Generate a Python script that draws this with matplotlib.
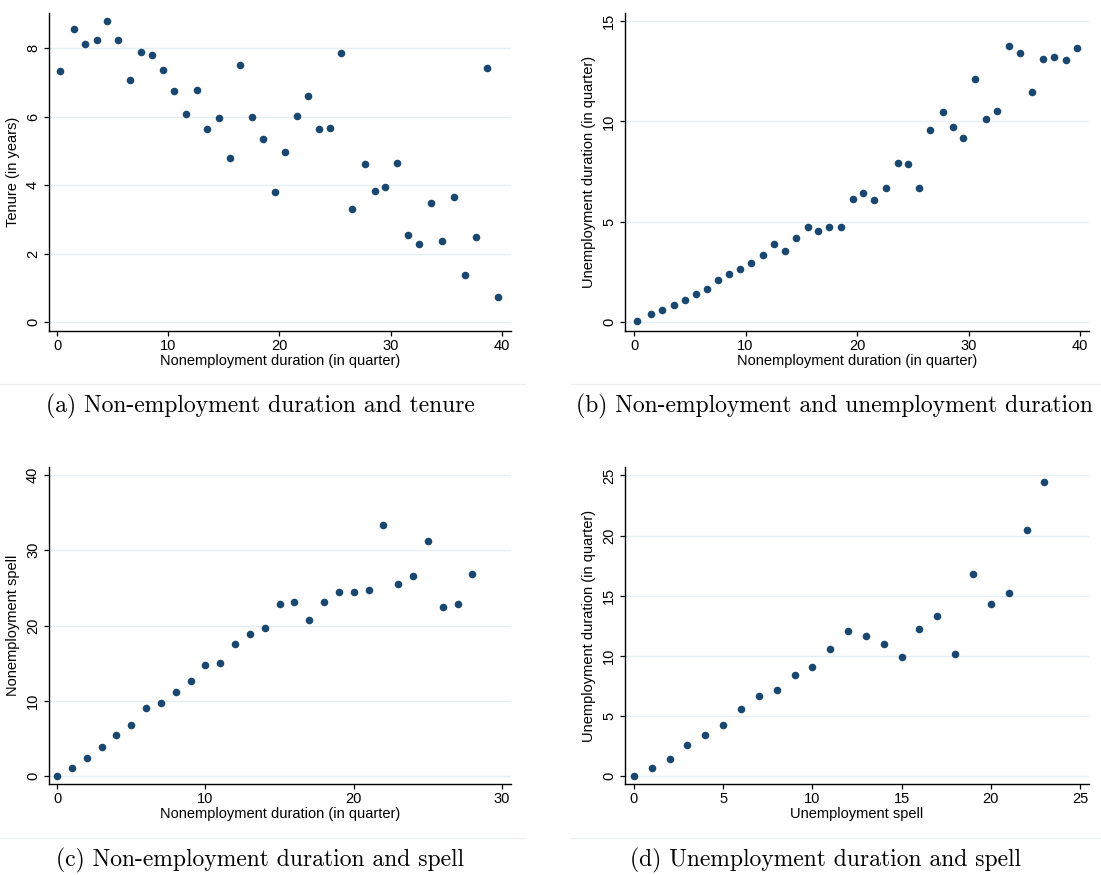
import matplotlib
matplotlib.use("Agg")
import matplotlib.pyplot as plt
from matplotlib.lines import Line2D

# (a) nonemployment duration vs tenure
a_x = [0.27, 1.53, 2.49, 3.6, 4.53, 5.52, 6.54, 7.56, 8.55, 9.54,
       10.49, 11.6, 12.56, 13.52, 14.54, 15.59, 16.49, 17.54, 18.56, 19.58,
       20.51, 21.56, 22.58, 23.6, 24.59, 25.55, 26.57, 27.71, 28.61, 29.48,
       30.58, 31.57, 32.59, 33.61, 34.66, 35.68, 36.67, 37.66, 38.68, 39.7]
a_y = [7.33, 8.56, 8.13, 8.24, 8.80, 8.23, 7.06, 7.90, 7.79, 7.37,
       6.74, 6.09, 6.79, 5.63, 5.96, 4.78, 7.51, 5.99, 5.34, 3.80,
       4.96, 6.02, 6.61, 5.63, 5.68, 7.87, 3.29, 4.62, 3.84, 3.94,
       4.65, 2.53, 2.27, 3.49, 2.37, 3.65, 1.39, 2.49, 7.43, 0.74]

# (b) nonemployment vs unemployment duration
b_x = [0.28, 1.52, 2.48, 3.6, 4.56, 5.58, 6.54, 7.57, 8.53, 9.52,
       10.48, 11.6, 12.56, 13.55, 14.54, 15.6, 16.5, 17.52, 18.57, 19.6,
       20.5, 21.55, 22.57, 23.63, 24.56, 25.55, 26.54, 27.69, 28.59, 29.46,
       30.6, 31.57, 32.56, 33.61, 34.64, 35.66, 36.68, 37.67, 38.7, 39.69]
b_y = [0.07, 0.38, 0.60, 0.83, 1.08, 1.40, 1.64, 2.09, 2.41, 2.64,
       2.92, 3.36, 3.90, 3.55, 4.19, 4.72, 4.52, 4.75, 4.75, 6.11,
       6.41, 6.08, 6.66, 7.94, 7.87, 6.68, 9.58, 10.47, 9.73, 9.15,
       12.09, 10.13, 10.53, 13.75, 13.42, 11.46, 13.11, 13.22, 13.07, 13.64]

# (c) nonemployment duration vs spell
c_x = list(range(29))
c_y = [0, 1.06, 2.39, 3.85, 5.40, 6.73, 9.04, 9.75, 11.12, 12.67,
       14.71, 14.97, 17.59, 18.87, 19.62, 22.90, 23.17, 20.78, 23.08, 24.45,
       24.50, 24.76, 33.31, 25.47, 26.58, 31.27, 22.41, 22.81, 26.80]

# (d) unemployment duration vs spell
d_x = list(range(24))
d_y = [0, 0.64, 1.38, 2.55, 3.43, 4.26, 5.56, 6.64, 7.14, 8.44,
       9.08, 10.60, 12.07, 11.68, 11.02, 9.88, 12.21, 13.29, 10.13, 16.81,
       14.34, 15.23, 20.46, 24.45]

navy = "#1a476f"
grid_c = "#E6EEF1"
W, H = 1101, 875

plt.rcParams["font.family"] = ["Liberation Sans", "DejaVu Sans"]

fig = plt.figure(figsize=(W / 100, H / 100), dpi=100)


def px_axes(l, t, r, b):
    return fig.add_axes([l / W, 1 - b / H, (r - l) / W, (b - t) / H])


panels = [
    dict(box=(49, 13, 511, 331), x=a_x, y=a_y, xlim=(-0.72, 40.83), ylim=(-0.26, 9.03),
         xt=[0, 10, 20, 30, 40], yt=[0, 2, 4, 6, 8],
         xl="Nonemployment duration (in quarter)", yl="Tenure (in years)"),
    dict(box=(625, 13, 1089, 331), x=b_x, y=b_y, xlim=(-0.81, 40.8), ylim=(-0.45, 15.4),
         xt=[0, 10, 20, 30, 40], yt=[0, 5, 10, 15],
         xl="Nonemployment duration (in quarter)", yl="Unemployment duration (in quarter)"),
    dict(box=(49, 467, 511, 784), x=c_x, y=c_y, xlim=(-0.54, 30.6), ylim=(-1.06, 41.06),
         xt=[0, 10, 20, 30], yt=[0, 10, 20, 30, 40],
         xl="Nonemployment duration (in quarter)", yl="Nonemployment spell"),
    dict(box=(625, 467, 1089, 784), x=d_x, y=d_y, xlim=(-0.5, 25.5), ylim=(-0.66, 25.7),
         xt=[0, 5, 10, 15, 20, 25], yt=[0, 5, 10, 15, 20, 25],
         xl="Unemployment spell", yl="Unemployment duration (in quarter)"),
]

for p in panels:
    ax = px_axes(*p["box"])
    ax.scatter(p["x"], p["y"], s=30, color=navy, linewidths=0, zorder=3, clip_on=False)
    ax.set_xlim(*p["xlim"])
    ax.set_ylim(*p["ylim"])
    ax.set_xticks(p["xt"])
    ax.set_yticks(p["yt"])
    for s in ("top", "right"):
        ax.spines[s].set_visible(False)
    for s in ("left", "bottom"):
        ax.spines[s].set_linewidth(1.0)
    ax.yaxis.grid(True, color=grid_c, lw=1.0)
    ax.set_axisbelow(True)
    ax.tick_params(axis="both", direction="out", length=3.5, width=0.9, labelsize=10.5, pad=2)
    ax.tick_params(axis="y", pad=3)
    for lab in ax.get_yticklabels():
        lab.set_rotation(90)
        lab.set_va("center")
    ax.set_xlabel(p["xl"], fontsize=10.5, labelpad=1)
    ax.set_ylabel(p["yl"], fontsize=10.5, labelpad=4)

# separators under each graph image
for y in (384, 838):
    for x0, x1 in ((0, 525), (571, 1101)):
        fig.add_artist(Line2D([x0 / W, x1 / W], [1 - y / H, 1 - y / H],
                              color="#EEF0F0", lw=1.0))

captions = [
    ("(a) Non-employment duration and tenure", 260, 406),
    ("(b) Non-employment and unemployment duration", 834, 406),
    ("(c) Non-employment duration and spell", 260, 860),
    ("(d) Unemployment duration and spell", 826, 860),
]
for txt, cx, cy in captions:
    fig.text(cx / W, 1 - cy / H, txt, family="cmr10", fontsize=17,
             ha="center", va="center")

fig.savefig("out.png", dpi=100)
